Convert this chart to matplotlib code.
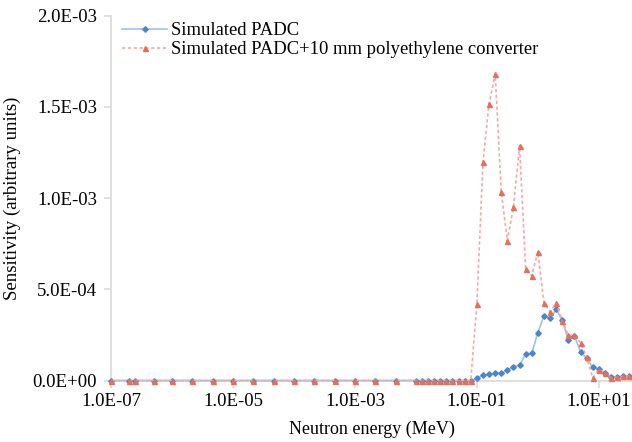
import matplotlib.pyplot as plt
from matplotlib.ticker import FuncFormatter, FixedLocator, NullLocator

plt.rcParams['font.family'] = ['Liberation Serif', 'DejaVu Serif']

# neutron energy (MeV)
energy = [1.0e-7, 2.0e-7, 2.5e-7, 5.0e-7,
          1.0e-6, 2.15e-6, 4.64e-6,
          1.0e-5, 2.15e-5, 4.64e-5,
          1.0e-4, 2.15e-4, 4.64e-4,
          1.0e-3, 2.15e-3, 4.64e-3,
          0.01, 0.0126, 0.0158, 0.02, 0.0251, 0.0316, 0.0398, 0.0501, 0.0631, 0.0794,
          0.1, 0.126, 0.158, 0.2, 0.251, 0.316, 0.398, 0.501, 0.631, 0.794,
          1.0, 1.26, 1.58, 2.0, 2.51, 3.16, 3.98, 5.01, 6.31, 7.94,
          10.0, 12.6, 15.8, 20.0, 25.1, 31.6]

zeros = [0.0] * 26

padc = zeros + [0.012e-3, 0.030e-3, 0.034e-3, 0.039e-3, 0.039e-3, 0.058e-3,
                0.076e-3, 0.083e-3, 0.145e-3, 0.149e-3, 0.262e-3, 0.355e-3,
                0.341e-3, 0.390e-3, 0.332e-3, 0.222e-3, 0.245e-3, 0.158e-3,
                0.122e-3, 0.072e-3, 0.061e-3, 0.043e-3, 0.021e-3, 0.019e-3,
                0.022e-3, 0.025e-3]

padc_pe = zeros + [0.419e-3, 1.199e-3, 1.515e-3, 1.679e-3, 1.034e-3, 0.766e-3,
                   0.952e-3, 1.287e-3, 0.609e-3, 0.573e-3, 0.706e-3, 0.426e-3,
                   0.377e-3, 0.423e-3, 0.328e-3, 0.249e-3, 0.249e-3, 0.207e-3,
                   0.129e-3, 0.014e-3, 0.060e-3, 0.043e-3, 0.014e-3, 0.019e-3,
                   0.022e-3, 0.025e-3]

fig = plt.figure(figsize=(6.32, 4.42), dpi=100)
ax = fig.add_axes([111 / 632, 1 - 380.5 / 442, 521 / 632, 365 / 442])

ax.plot(energy, padc, color='#9dc3e6', lw=1.2, marker='D', ms=2.8,
        mfc='#4a86c8', mec='#4a86c8', label='Simulated PADC', clip_on=False,
        zorder=3)
ax.plot(energy, padc_pe, color='#f5aaa4', lw=1.2, ls=(0, (2, 1.5)), marker='^',
        ms=3.6, mfc='#e2705f', mec='#e2705f', clip_on=False, zorder=4,
        label='Simulated PADC+10 mm polyethylene converter')

ax.set_xscale('log')
ax.set_xlim(1e-7, 35)
ax.set_ylim(0, 2e-3)
ax.xaxis.set_major_locator(FixedLocator([1e-7, 1e-5, 1e-3, 1e-1, 1e1]))
ax.xaxis.set_minor_locator(NullLocator())
ax.set_yticks([0, 5e-4, 1e-3, 1.5e-3, 2e-3])
fmt = FuncFormatter(lambda v, p: f"{v:.1E}")
ax.xaxis.set_major_formatter(fmt)
ax.yaxis.set_major_formatter(fmt)

for s in ['top', 'right']:
    ax.spines[s].set_visible(False)
for s in ['left', 'bottom']:
    ax.spines[s].set_color('#d9d9d9')
    ax.spines[s].set_linewidth(1.2)
ax.tick_params(colors='#d9d9d9', labelcolor='black', labelsize=13.5,
               length=5, width=1.2)
ax.tick_params(axis='x', pad=4)
ax.tick_params(axis='y', pad=5)

ax.set_xlabel('Neutron energy (MeV)', fontsize=13, labelpad=8)
ax.set_ylabel('Sensitivity (arbitrary units)', fontsize=13.5, labelpad=8)

ax.legend(loc='upper left', bbox_to_anchor=(0.0, 1.012), frameon=False,
          fontsize=13.4, handlelength=2.4, handletextpad=0.2, labelspacing=0.1,
          borderaxespad=0.2)

fig.savefig('out.png', dpi=100)
